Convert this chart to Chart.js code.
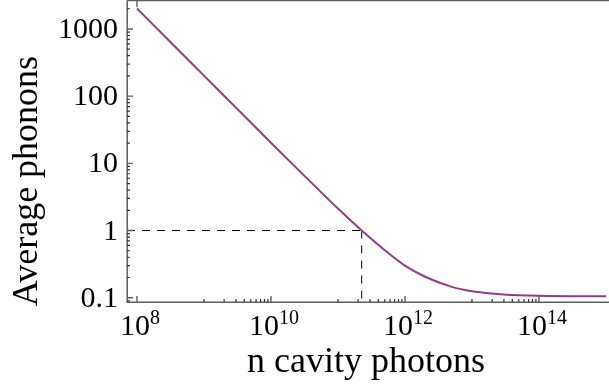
<!DOCTYPE html>
<html>
<head>
<meta charset="utf-8">
<script src="https://cdn.jsdelivr.net/npm/chart.js@4/dist/chart.umd.min.js"></script>
<style>
  html, body { margin: 0; padding: 0; background: #fff; }
  #wrap { width: 609px; height: 387px; position: relative; }
</style>
</head>
<body>
<div id="wrap"><canvas id="phononChart"></canvas></div>
<script>
// --- Data ---
const photons = [1e8, 3e8, 1e9, 3e9, 1e10, 3e10, 1e11, 2.26e11, 5e11, 1e12, 2e12, 5e12, 1e13, 3e13, 1e14, 1e15];
const phonons = [2020, 675, 202, 67.5, 20.3, 6.85, 2.12, 1.0, 0.51, 0.30, 0.205, 0.145, 0.125, 0.112, 0.107, 0.105];

// dashed guide: where the curve crosses one phonon
const refPhotons = 2.26e11;
const refPhonons = 1;

const xTickExps = [8, 10, 12, 14];
const xMinorDecades = [9, 11, 13];
const yTicks = [0.1, 1, 10, 100, 1000];
const yTickLabels = ['0.1', '1', '10', '100', '1000'];

const xTitle = 'n cavity photons';
const yTitle = 'Average phonons';

// axis ranges
const X_MIN = 7.1e7, X_MAX = 1.11e15;
const Y_MIN = 0.0863, Y_MAX = 2700;

const SERIF = '"Liberation Serif", "DejaVu Serif", serif';
const AXIS_GRAY = '#5e5e5e';

// --- Frame, ticks and labels drawn on top (Mathematica-style inward ticks) ---
const framePlugin = {
    id: 'frame',
    afterDraw(chart) {
        const { ctx, chartArea: a } = chart;
        const xs = chart.scales.x, ys = chart.scales.y;
        ctx.save();

        // spines
        ctx.strokeStyle = AXIS_GRAY;
        ctx.lineWidth = 1.5;
        ctx.beginPath();
        ctx.moveTo(a.left + 0.2, a.top + 0.6);
        ctx.lineTo(a.left + 0.2, a.bottom + 0.3);
        ctx.lineTo(a.right, a.bottom + 0.3);
        ctx.moveTo(a.left, a.top + 0.6);
        ctx.lineTo(a.right, a.top + 0.6);
        ctx.stroke();

        ctx.lineWidth = 1.4;
        ctx.beginPath();
        // x major ticks
        xTickExps.forEach(e => {
            const px = xs.getPixelForValue(Math.pow(10, e));
            ctx.moveTo(px, a.bottom);
            ctx.lineTo(px, a.bottom - 6);
        });
        // top tick at first label
        const p8 = xs.getPixelForValue(Math.pow(10, xTickExps[0]));
        ctx.moveTo(p8, a.top);
        ctx.lineTo(p8, a.top + 7);
        ctx.stroke();

        ctx.lineWidth = 1.2;
        ctx.strokeStyle = '#333';
        ctx.beginPath();
        // x minor ticks
        xMinorDecades.forEach(d => {
            for (let m = 1; m <= 9; m++) {
                const px = xs.getPixelForValue(m * Math.pow(10, d));
                ctx.moveTo(px, a.bottom);
                ctx.lineTo(px, a.bottom - 3);
            }
        });
        // y minor ticks
        for (let d = -2; d <= 3; d++) {
            for (let m = 2; m <= 9; m++) {
                const v = m * Math.pow(10, d);
                if (v < Y_MIN || v > Y_MAX) continue;
                const py = ys.getPixelForValue(v);
                ctx.moveTo(a.left, py);
                ctx.lineTo(a.left + 3, py);
            }
        }
        ctx.stroke();

        ctx.lineWidth = 1.4;
        ctx.strokeStyle = AXIS_GRAY;
        ctx.beginPath();
        yTicks.forEach(v => {
            const py = ys.getPixelForValue(v);
            ctx.moveTo(a.left, py);
            ctx.lineTo(a.left + 6, py);
        });
        ctx.stroke();

        // y tick labels
        ctx.fillStyle = '#000';
        ctx.font = '30px ' + SERIF;
        ctx.textAlign = 'right';
        ctx.textBaseline = 'alphabetic';
        yTicks.forEach((v, i) => {
            const py = ys.getPixelForValue(v);
            ctx.fillText(yTickLabels[i], a.left - 9, py + 9);
        });

        // x tick labels 10^n
        xTickExps.forEach(e => {
            const px = xs.getPixelForValue(Math.pow(10, e));
            ctx.font = '30px ' + SERIF;
            const wb = ctx.measureText('10').width;
            ctx.font = '20px ' + SERIF;
            const we = ctx.measureText(String(e)).width;
            const left = px + 3 - (wb + we) / 2;
            ctx.textAlign = 'left';
            ctx.font = '30px ' + SERIF;
            ctx.fillText('10', left, a.bottom + 33);
            ctx.font = '20px ' + SERIF;
            ctx.fillText(String(e), left + wb, a.bottom + 22);
        });

        // axis titles
        ctx.font = '36px ' + SERIF;
        ctx.textAlign = 'center';
        ctx.fillText(xTitle, 366, 372);

        ctx.translate(37, 181);
        ctx.rotate(-Math.PI / 2);
        ctx.fillText(yTitle, 0, 0);

        ctx.restore();
    }
};

const ctx = document.getElementById('phononChart').getContext('2d');

new Chart(ctx, {
    type: 'line',
    data: {
        datasets: [
            {
                label: 'phonons',
                data: photons.map((n, i) => ({ x: n, y: phonons[i] })),
                borderColor: '#923c85',
                borderWidth: 2,
                pointRadius: 0,
                fill: false,
                cubicInterpolationMode: 'monotone'
            },
            {
                label: 'guide-h',
                data: [{ x: X_MIN, y: refPhonons }, { x: refPhotons, y: refPhonons }],
                borderColor: '#000',
                borderWidth: 1,
                borderDash: [8, 7],
                pointRadius: 0,
                fill: false
            },
            {
                label: 'guide-v',
                data: [{ x: refPhotons, y: refPhonons }, { x: refPhotons, y: Y_MIN }],
                borderColor: '#000',
                borderWidth: 1,
                borderDash: [8, 7],
                pointRadius: 0,
                fill: false
            }
        ]
    },
    options: {
        responsive: true,
        maintainAspectRatio: false,
        animation: false,
        events: [],
        layout: { padding: { left: 127, top: 0, right: 0, bottom: 85 } },
        plugins: {
            legend: { display: false },
            tooltip: { enabled: false }
        },
        scales: {
            x: { type: 'logarithmic', min: X_MIN, max: X_MAX, display: false },
            y: { type: 'logarithmic', min: Y_MIN, max: Y_MAX, display: false }
        }
    },
    plugins: [framePlugin]
});
</script>
</body>
</html>
